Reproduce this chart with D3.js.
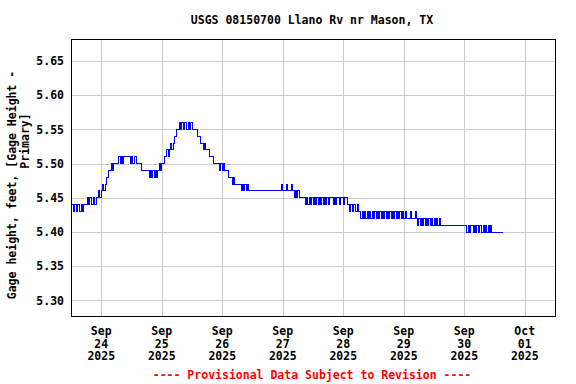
<!DOCTYPE html>
<html>
<head>
<meta charset="utf-8">
<script src="https://cdn.jsdelivr.net/npm/d3@7"></script>
<style>
  body { margin: 0; background: #fff; }
  text { font-family: "DejaVu Sans Mono", monospace; font-weight: bold; font-size: 11.5px; }
</style>
</head>
<body>
<script>
// Half-hourly gage readings starting Sep 23 2025 12:00,
// each char = hundredths of a foot above 5.40 (0..g)
const startTime = Date.UTC(2025, 8, 23, 12, 0);
const stepMinutes = 30;
const baseHeight = 5.40;
const readingRows = [
  "443434434344454544545565",
  "67678899a9aaaabababbbbba",
  "babbaaaa99999989898989a9",
  "aabbcbcdcdeeffgfgfggfgfg",
  "ffffeeeddcdcccbbbaaaaa9a",
  "9a9998887877777676767666",
  "666666666666666666666667",
  "666766676565655555454545",
  "454545454545455545455455",
  "455443434434332323232323",
  "232323232323232323232323",
  "232223222321212121212121",
  "212121111111111111111111",
  "110101101010110101010100",
  "00000000"
];

const yTicks = [5.30, 5.35, 5.40, 5.45, 5.50, 5.55, 5.60, 5.65];
const dayTicks = ["2025-09-24", "2025-09-25", "2025-09-26", "2025-09-27",
                  "2025-09-28", "2025-09-29", "2025-09-30", "2025-10-01"];
const dayLabels = [
  ["Sep", "24", "2025"], ["Sep", "25", "2025"], ["Sep", "26", "2025"], ["Sep", "27", "2025"],
  ["Sep", "28", "2025"], ["Sep", "29", "2025"], ["Sep", "30", "2025"], ["Oct", "01", "2025"]
];
const title = "USGS 08150700 Llano Rv nr Mason, TX";
const yLabelLines = ["Gage height, feet, [Gage Height -", "Primary]"];
const footer = "---- Provisional Data Subject to Revision ----";

const width = 576, height = 384;
const plot = { left: 71, top: 39, right: 555, bottom: 316 };

const readings = readingRows.join("").split("").map((c, i) => ({
  t: new Date(startTime + i * stepMinutes * 60000),
  v: baseHeight + parseInt(c, 17) / 100
}));

const svg = d3.select("body").append("svg")
  .attr("width", width)
  .attr("height", height);

const x = d3.scaleUtc()
  .domain([new Date(Date.UTC(2025, 8, 23, 12)), new Date(Date.UTC(2025, 9, 1, 12))])
  .range([plot.left, plot.right]);

const y = d3.scaleLinear()
  .domain([5.2772, 5.6822])
  .range([plot.bottom, plot.top]);

const tickDates = dayTicks.map(d => new Date(d + "T00:00:00Z"));

// gridlines
const yAxis = svg.append("g")
  .attr("transform", `translate(${plot.left},0)`)
  .call(d3.axisLeft(y)
    .tickValues(yTicks)
    .tickSize(-(plot.right - plot.left))
    .tickPadding(7)
    .tickFormat(d3.format(".2f")));
yAxis.select(".domain").remove();
yAxis.selectAll("line").attr("stroke", "#cccccc").attr("shape-rendering", "crispEdges");
yAxis.selectAll("text").attr("fill", "#000");
yAxis.attr("font-size", null).attr("font-family", null);

const xAxis = svg.append("g")
  .attr("transform", `translate(0,${plot.bottom})`)
  .call(d3.axisBottom(x)
    .tickValues(tickDates)
    .tickSize(-(plot.bottom - plot.top))
    .tickFormat(""));
xAxis.select(".domain").remove();
xAxis.selectAll("line").attr("stroke", "#cccccc").attr("shape-rendering", "crispEdges");
xAxis.attr("font-size", null).attr("font-family", null);

// three-line date labels
const dayText = svg.selectAll(".dayLabel")
  .data(dayLabels)
  .enter()
  .append("text")
  .attr("class", "dayLabel")
  .attr("text-anchor", "middle");
[335, 347.5, 360].forEach((yy, k) => {
  dayText.append("tspan")
    .attr("x", (d, i) => x(tickDates[i]))
    .attr("y", yy)
    .text(d => d[k]);
});

// gage height line
const line = d3.line()
  .x(d => x(d.t))
  .y(d => y(d.v))
  .curve(d3.curveStepAfter);

svg.append("path")
  .datum(readings)
  .attr("fill", "none")
  .attr("stroke", "#0000ff")
  .attr("stroke-width", 1)
  .attr("shape-rendering", "crispEdges")
  .attr("d", line);

// plot frame
svg.append("rect")
  .attr("x", plot.left + 0.5)
  .attr("y", plot.top + 0.5)
  .attr("width", plot.right - plot.left)
  .attr("height", plot.bottom - plot.top)
  .attr("fill", "none")
  .attr("stroke", "#000")
  .attr("stroke-width", 1);

svg.append("text")
  .attr("x", 312)
  .attr("y", 24)
  .attr("text-anchor", "middle")
  .text(title);

svg.append("text")
  .attr("transform", "translate(16,185) rotate(-90)")
  .attr("text-anchor", "middle")
  .text(yLabelLines[0]);
svg.append("text")
  .attr("transform", "translate(29,141) rotate(-90)")
  .attr("text-anchor", "middle")
  .text(yLabelLines[1]);

svg.append("text")
  .attr("x", 312)
  .attr("y", 379)
  .attr("text-anchor", "middle")
  .attr("fill", "#ff0000")
  .text(footer);
</script>
</body>
</html>
